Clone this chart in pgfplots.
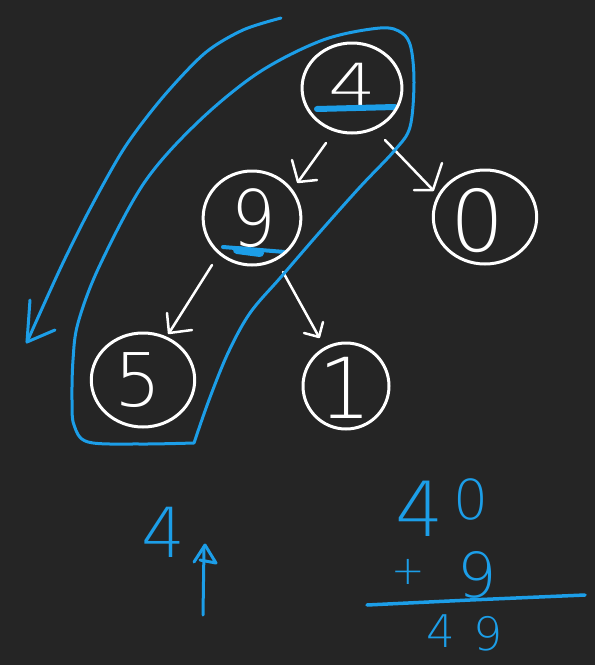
\documentclass[border=0pt]{standalone}
\usepackage{pgfplots}
\pgfplotsset{compat=1.18}
\usepackage{fontspec}
\newfontfamily\hand{DejaVu Sans ExtraLight}
\definecolor{bg}{RGB}{37,37,37}
\definecolor{ink}{RGB}{28,158,232}
\begin{document}
\begin{tikzpicture}
\begin{axis}[
  scale only axis, width=595pt, height=665pt,
  xmin=0, xmax=595, ymin=0, ymax=665, y dir=reverse,
  axis lines=none, xtick=\empty, ytick=\empty,
  axis background/.style={fill=bg},
  clip=false,
  every axis plot/.append style={line cap=round, line join=round},
]
% ---- white circles (nodes) ----
\addplot[only marks, mark=o, mark size=45, mark options={white, line width=3pt, xscale=1.11}] coordinates {(352,88)};
\addplot[only marks, mark=o, mark size=47, mark options={white, line width=3pt, xscale=1.04}] coordinates {(252,218)};
\addplot[only marks, mark=o, mark size=47, mark options={white, line width=3pt, xscale=1.10}] coordinates {(485,217)};
\addplot[only marks, mark=o, mark size=47, mark options={white, line width=3pt, xscale=1.10}] coordinates {(143,380)};
\addplot[only marks, mark=o, mark size=43, mark options={white, line width=3pt, xscale=1.0}] coordinates {(346,386)};
% ---- white arrows ----
\addplot[white, line width=2.5pt, no marks] coordinates {(326,143) (298,182)};
\addplot[white, line width=2.5pt, no marks] coordinates {(292,160) (298,182) (317,180)};
\addplot[white, line width=2.5pt, no marks] coordinates {(385,140) (433,190)};
\addplot[white, line width=2.5pt, no marks] coordinates {(442,163) (433,190) (414,190)};
\addplot[white, line width=2.5pt, no marks] coordinates {(212,265) (169,333)};
\addplot[white, line width=2.5pt, no marks] coordinates {(167,313) (169,333) (192,330)};
\addplot[white, line width=2.5pt, no marks] coordinates {(283,272) (319,337)};
\addplot[white, line width=2.5pt, no marks] coordinates {(323,322) (319,337) (304,333)};
% ---- digits ----
\node[white, inner sep=0, xscale=1.3] at (axis cs:352,84) {\hand\fontsize{58}{60}\selectfont 4};
\node[white, inner sep=0, xscale=0.9] at (axis cs:254,218) {\hand\fontsize{78}{80}\selectfont 9};
\node[white, inner sep=0] at (axis cs:478,221) {\hand\fontsize{85}{88}\selectfont 0};
\node[white, inner sep=0] at (axis cs:138,380) {\hand\fontsize{74}{76}\selectfont 5};
\node[white, inner sep=0] at (axis cs:345,388) {\hand\fontsize{84}{86}\selectfont 1};
% ---- blue underlines ----
\addplot[ink, line width=6pt, no marks] coordinates {(317,109) (395,107)};
\addplot[ink, line width=4pt, no marks] coordinates {(223,247) (285,252)};
\addplot[ink, line width=8pt, no marks] coordinates {(237,250) (260,253)};
% ---- blue loop ----
\addplot[ink, line width=3pt, no marks, smooth, tension=0.55] coordinates {
 (194,443) (140,444) (88,442) (74,425) (72,400) (73,360) (78,323) (99,267)
 (144,183) (197,123) (258,73) (323,40) (380,28) (402,33) (411,48) (414,83)
 (410,127) (395,150) (360,187) (319,233) (281,277) (250,313) (228,353)
 (209,400) (194,443)};
% ---- big blue arrow ----
\addplot[ink, line width=3pt, no marks, smooth] coordinates {
 (281,18) (243,30) (205,53) (163,97) (125,147) (91,207) (61,267) (27,342)};
\addplot[ink, line width=3pt, no marks] coordinates {(30,300) (27,342) (55,330)};
% ---- bottom left ----
\node[ink, inner sep=0] at (axis cs:163,532) {\hand\fontsize{69}{70}\selectfont 4};
\addplot[ink, line width=3pt, no marks] coordinates {(203,615) (204,548)};
\addplot[ink, line width=3pt, no marks] coordinates {(194,562) (205,545) (216,563) (200,560)};
% ---- bottom right sum ----
\node[ink, inner sep=0] at (axis cs:420,509) {\hand\fontsize{76}{78}\selectfont 4};
\node[ink, inner sep=0] at (axis cs:471,499) {\hand\fontsize{55}{56}\selectfont 0};
\node[ink, inner sep=0] at (axis cs:408,572) {\hand\fontsize{40}{42}\selectfont +};
\node[ink, inner sep=0] at (axis cs:477,575) {\hand\fontsize{62}{64}\selectfont 9};
\addplot[ink, line width=3.5pt, no marks] coordinates {(367,605) (470,600) (585,595)};
\node[ink, inner sep=0] at (axis cs:441,631) {\hand\fontsize{45}{46}\selectfont 4};
\node[ink, inner sep=0] at (axis cs:488,634) {\hand\fontsize{46}{48}\selectfont 9};
\end{axis}
\end{tikzpicture}
\end{document}
